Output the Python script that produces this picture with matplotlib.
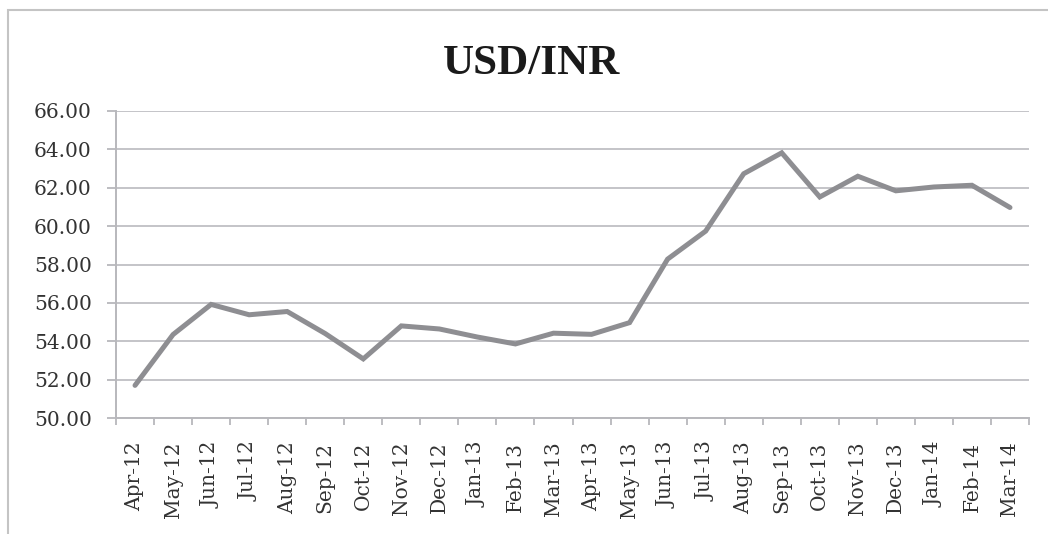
import matplotlib
matplotlib.use('Agg')
import matplotlib.pyplot as plt
from matplotlib.patches import Rectangle

# Monthly USD/INR values
months = ['Apr-12', 'May-12', 'Jun-12', 'Jul-12', 'Aug-12', 'Sep-12', 'Oct-12', 'Nov-12',
          'Dec-12', 'Jan-13', 'Feb-13', 'Mar-13', 'Apr-13', 'May-13', 'Jun-13', 'Jul-13',
          'Aug-13', 'Sep-13', 'Oct-13', 'Nov-13', 'Dec-13', 'Jan-14', 'Feb-14', 'Mar-14']
usd_inr = [51.70, 54.35, 55.92, 55.38, 55.55, 54.40, 53.08, 54.80,
           54.64, 54.22, 53.86, 54.42, 54.36, 54.97, 58.28, 59.74,
           62.73, 63.82, 61.52, 62.60, 61.84, 62.04, 62.13, 60.97]
yticks = [50, 52, 54, 56, 58, 60, 62, 64, 66]

plt.rcParams['font.family'] = ['DejaVu Serif']

fig = plt.figure(figsize=(10.48, 5.34), dpi=100)
ax = fig.add_axes([116 / 1048, (534 - 418) / 534, 913 / 1048, 307 / 534])

# outer chart border (only top and left edges fall inside the picture)
fig.patches.append(Rectangle((8 / 1048, -0.05), 1.1, (534 - 10) / 534 + 0.05,
                             transform=fig.transFigure, fill=False,
                             edgecolor='#c4c4c4', linewidth=1.5))

x = list(range(len(months)))
ax.plot(x, usd_inr, color='#8e8e92', linewidth=3.6, solid_capstyle='round',
        solid_joinstyle='miter', zorder=3)

ax.set_xlim(-0.5, len(months) - 0.5)
ax.set_ylim(50, 66)
ax.set_yticks(yticks)
ax.set_yticklabels([f'{v:.2f}' for v in yticks], fontsize=14.5, color='#333333')
ax.set_xticks(x)
ax.set_xticklabels(months, rotation=90, fontsize=14.5, color='#333333')
ax.tick_params(axis='x', length=0, pad=17)
ax.set_xticks([i - 0.5 for i in range(len(months) + 1)], minor=True)
ax.tick_params(axis='x', which='minor', length=5, color='#b8b8bc', width=1.3, direction='out')
ax.tick_params(axis='y', length=6.5, color='#b8b8bc', width=1.3, pad=11)

ax.grid(axis='y', color='#c4c4c8', linewidth=1.4)
ax.set_axisbelow(True)
for s in ['top', 'right']:
    ax.spines[s].set_visible(False)
ax.spines['left'].set_color('#b8b8bc')
ax.spines['left'].set_linewidth(1.4)
ax.spines['bottom'].set_color('#b8b8bc')
ax.spines['bottom'].set_linewidth(1.4)

fig.text(532 / 1048, (534 - 74) / 534, 'USD/INR', ha='center', va='baseline',
         fontsize=31, fontweight='bold', color='#1a1a1a', family='Liberation Serif')

fig.savefig('out.png', dpi=100)
